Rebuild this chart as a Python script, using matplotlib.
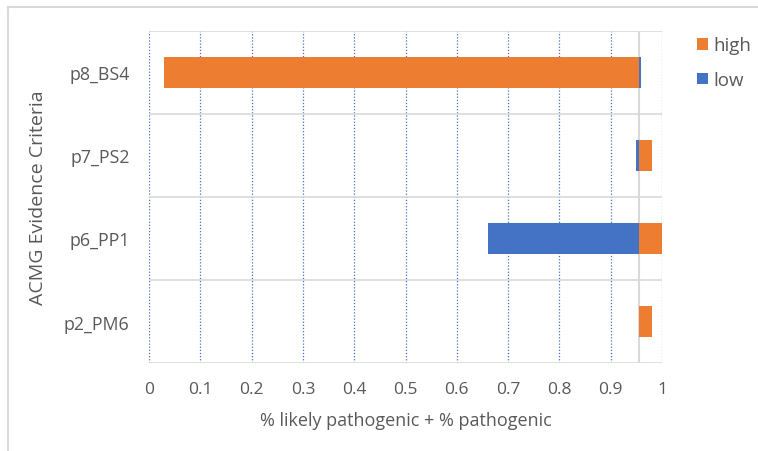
import numpy as np
import matplotlib
matplotlib.use("Agg")
import matplotlib.pyplot as plt
from matplotlib.lines import Line2D

# criteria, bottom to top
criteria = ["p2_PM6", "p6_PP1", "p7_PS2", "p8_BS4"]
base = 0.955
low = [0.955, 0.66, 0.95, 0.96]
high = [0.98, 1.0, 0.98, 0.03]
ticks = [0, 0.1, 0.2, 0.3, 0.4, 0.5, 0.6, 0.7, 0.8, 0.9, 1]
tick_labels = ["0", "0.1", "0.2", "0.3", "0.4", "0.5", "0.6", "0.7", "0.8", "0.9", "1"]

orange = "#ED7D31"
blue = "#4472C4"
grey_txt = "#595959"
grey_line = "#D9D9D9"

plt.rcParams["font.family"] = ["Open Sans", "DejaVu Sans"]

fig = plt.figure(figsize=(7.58, 4.52), dpi=100)
# chart frame: only the left and top edges show
fx, fy = 8 / 758, 1 - 8 / 452
fig.lines.append(Line2D([fx, fx], [0, fy], transform=fig.transFigure, color=grey_line, lw=1.5))
fig.lines.append(Line2D([fx, 1], [fy, fy], transform=fig.transFigure, color=grey_line, lw=1.5))

ax = fig.add_axes([149 / 758, 1 - 364 / 452, 513 / 758, 332 / 452])

y = np.arange(len(criteria))
h = 0.37
ax.barh(y, np.array(high) - base, left=base, height=h, color=orange, label="high", zorder=3)
ax.barh(y, np.array(low) - base, left=base, height=h, color=blue, label="low", zorder=3)

ax.set_xlim(0, 1)
ax.set_ylim(-0.5, len(criteria) - 0.5)
ax.set_xticks(ticks)
ax.set_xticklabels(tick_labels)
ax.set_yticks(y)
ax.set_yticklabels(criteria)

# dotted value gridlines and solid category separators
for t in ticks:
    ax.axvline(t, color=blue, ls=(0, (1, 1.5)), lw=0.9, zorder=1)
for b in np.arange(len(criteria) + 1) - 0.5:
    ax.axhline(b, color=grey_line, lw=1.2, zorder=1)
ax.axvline(base, color=grey_line, lw=1.5, zorder=2)

for s in ax.spines.values():
    s.set_visible(False)
ax.tick_params(length=0, colors=grey_txt)
ax.tick_params(axis="x", pad=13, labelsize=12.5)
ax.tick_params(axis="y", pad=14, labelsize=12.8)

ax.set_xlabel("% likely pathogenic + % pathogenic", color=grey_txt, fontsize=13, labelpad=10)
ax.set_ylabel("ACMG Evidence Criteria", color=grey_txt, fontsize=14, labelpad=12)

leg = ax.legend(loc="upper left", bbox_to_anchor=(1.035, 1.035), frameon=False,
                fontsize=13.5, handlelength=0.6, handleheight=0.6, handletextpad=0.3,
                labelspacing=0.9)
for txt in leg.get_texts():
    txt.set_color(grey_txt)

fig.savefig("out.png", dpi=100)
